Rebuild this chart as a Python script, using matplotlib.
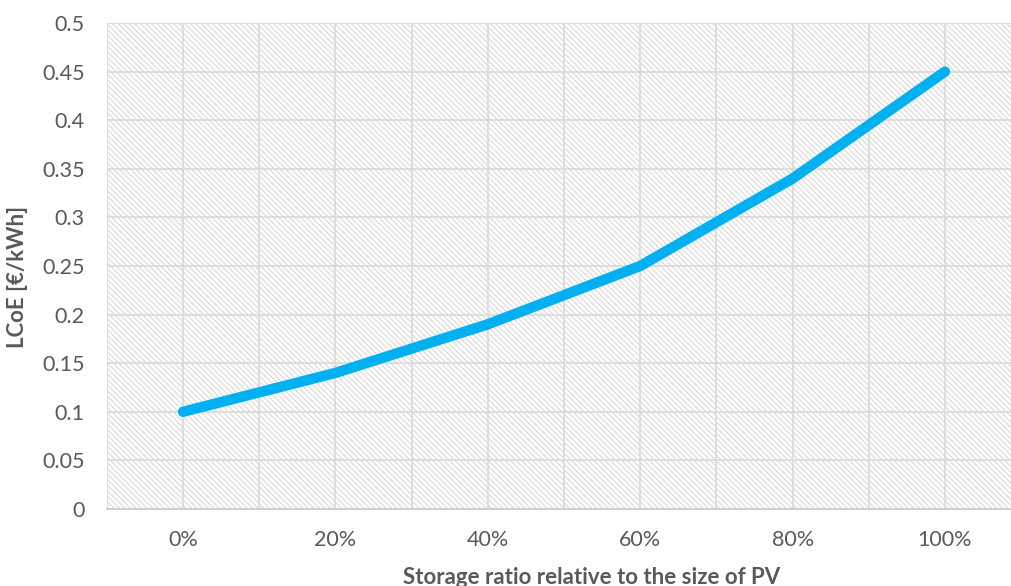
import matplotlib
matplotlib.use("Agg")
import matplotlib.pyplot as plt
import numpy as np
from matplotlib.patches import Rectangle
from matplotlib.ticker import MultipleLocator

# Levelised cost of electricity vs. battery storage share
storage_labels = ["0%", "20%", "40%", "60%", "80%", "100%"]
lcoe_values = [0.10, 0.14, 0.19, 0.25, 0.34, 0.45]
lcoe_ticks = [0, 0.05, 0.1, 0.15, 0.2, 0.25, 0.3, 0.35, 0.4, 0.45, 0.5]
lcoe_tick_labels = ["0", "0.05", "0.1", "0.15", "0.2", "0.25", "0.3", "0.35",
                    "0.4", "0.45", "0.5"]

plt.rcParams["font.family"] = ["Lato", "DejaVu Sans"]
plt.rcParams["hatch.color"] = "#dcdcdc"
plt.rcParams["hatch.linewidth"] = 0.9

W, H = 1011, 586
fig = plt.figure(figsize=(W / 100, H / 100), dpi=100)
left, right, top, bottom = 106.8, 1021.2, 23, 509
ax = fig.add_axes([left / W, 1 - bottom / H, (right - left) / W, (bottom - top) / H])

# hatched plot-area background
ax.patch.set_facecolor("white")
bg = Rectangle((0, 0), 1, 1, transform=ax.transAxes, facecolor="white",
               edgecolor="#dcdcdc", hatch="\\" * 6, linewidth=0, zorder=0)
ax.add_patch(bg)

x = np.arange(len(storage_labels))
ax.plot(x, lcoe_values, color="#00B0F0", linewidth=7.5,
        solid_capstyle="round", solid_joinstyle="round", zorder=3)

ax.set_xticks(x)
ax.set_xticklabels(storage_labels)
ax.xaxis.set_minor_locator(MultipleLocator(0.5))
ax.set_yticks(lcoe_ticks)
ax.set_yticklabels(lcoe_tick_labels)
ax.set_xlim(-0.5, len(storage_labels) - 0.5)
ax.set_ylim(0, 0.5)

ax.grid(True, which="major", axis="y", color="#d9d9d9", linewidth=1.2, zorder=1)
ax.grid(True, which="both", axis="x", color="#d9d9d9", linewidth=1.2, zorder=1)
ax.set_axisbelow(True)

for side in ("top", "right", "left"):
    ax.spines[side].set_visible(False)
ax.spines["bottom"].set_color("#cfcfcf")
ax.spines["bottom"].set_linewidth(1.5)

ax.tick_params(axis="both", which="both", length=0, labelsize=15.5,
               labelcolor="#595959")
ax.tick_params(axis="x", pad=15)
ax.tick_params(axis="y", pad=16)

fig.text(592 / W, 1 - 577 / H, "Storage ratio relative to the size of PV",
         ha="center", va="center", fontsize=16, fontweight="bold", color="#595959")
fig.text(18 / W, 1 - 277 / H, "LCoE [€/kWh]", rotation=90,
         ha="center", va="center", fontsize=16, fontweight="bold", color="#595959")

fig.savefig("out.png", dpi=100)
